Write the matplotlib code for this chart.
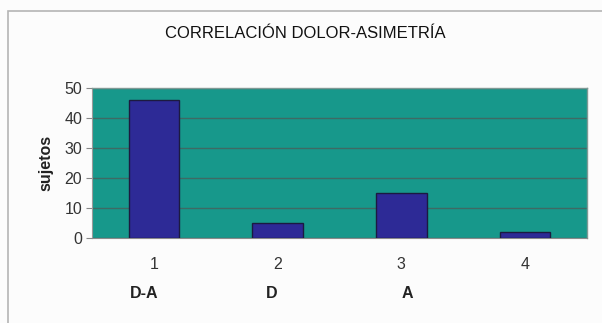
import matplotlib
matplotlib.use("Agg")
import matplotlib.pyplot as plt
from matplotlib.patches import Rectangle

plt.rcParams['font.family'] = ['Liberation Sans', 'DejaVu Sans']

categories = [1, 2, 3, 4]
sujetos = [46, 5, 15, 2]
group_labels = ["D-A", "D", "A"]
group_offsets = [-0.08, -0.05, 0.05]
yticks = [0, 10, 20, 30, 40, 50]

fig = plt.figure(figsize=(6.02, 3.23), dpi=100)
fig.patch.set_facecolor('#fcfcfc')

# chart frame
fig.add_artist(Rectangle((8 / 602, -0.05), 1.0, 1 - 11.5 / 323 + 0.05,
                         transform=fig.transFigure, fill=False,
                         edgecolor='#b5b5b5', linewidth=1.2))

ax = fig.add_axes([92 / 602, (323 - 237.5) / 323, 495 / 602, 149.5 / 323])
ax.set_facecolor('#17988b')
ax.bar(categories, sujetos, width=0.41, color='#2d2a96',
       edgecolor='#1c1a40', linewidth=1.0, zorder=3)

ax.set_xlim(0.5, 4.5)
ax.set_ylim(0, 50)
ax.set_yticks(yticks)
ax.set_xticks(categories)
ax.yaxis.grid(True, color='#3e6a64', linewidth=1.0, zorder=1)
ax.set_axisbelow(True)

for side in ['top', 'right']:
    ax.spines[side].set_color('#7f9995')
    ax.spines[side].set_linewidth(1.0)
ax.spines['left'].set_color('#9a9a9a')
ax.spines['bottom'].set_color('#8a8a8a')

ax.tick_params(axis='y', length=4, color='#888888', labelsize=11.5,
               labelcolor='#333333', pad=3)
ax.tick_params(axis='x', length=0, labelsize=11.5, labelcolor='#333333', pad=14)

ax.set_ylabel("sujetos", fontsize=11.5, fontweight='bold', color='#222222',
              labelpad=8)

for cat, lab, off in zip(categories, group_labels, group_offsets):
    ax.annotate(lab, xy=(cat + off, 0), xycoords=('data', 'axes fraction'),
                xytext=(0, -40), textcoords='offset points', ha='center',
                va='center', fontsize=11.5, fontweight='bold', color='#222222')

fig.text(305 / 602, 1 - 33 / 323, "CORRELACIÓN DOLOR-ASIMETRÍA",
         ha='center', va='center', fontsize=12, color='#111111')

fig.savefig("out.png", dpi=100, facecolor=fig.get_facecolor())
